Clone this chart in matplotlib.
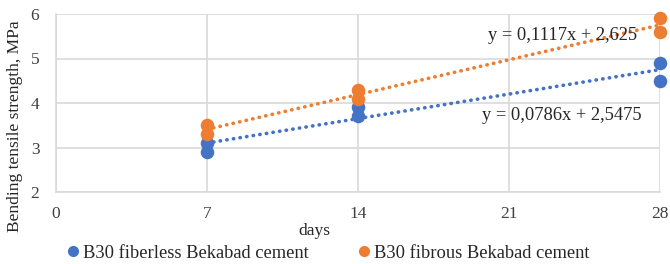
import numpy as np
import matplotlib
matplotlib.use('Agg')
import matplotlib.pyplot as plt
from matplotlib.lines import Line2D

plt.rcParams['font.family'] = ['Liberation Serif', 'DejaVu Serif']

days = [7, 7, 14, 14, 28, 28]
fiberless = [2.9, 3.1, 3.7, 3.9, 4.5, 4.9]
fibrous = [3.3, 3.5, 4.1, 4.3, 5.6, 5.9]
x_ticks = [0, 7, 14, 21, 28]
y_ticks = [2, 3, 4, 5, 6]
names = ['B30 fiberless Bekabad cement', 'B30 fibrous Bekabad cement']
equations = ['y = 0,0786x + 2,5475', 'y = 0,1117x + 2,625']
blue = '#4472C4'
orange = '#ED7D31'
grid_c = '#D9D9D9'
txt_c = '#262626'

fig = plt.figure(figsize=(6.7, 2.64), dpi=100)
ax = fig.add_axes([56 / 670, 1 - 192 / 264, 604 / 670, 178 / 264])

ax.set_xlim(0, 28)
ax.set_ylim(2, 6)
ax.set_xticks(x_ticks)
ax.set_yticks(y_ticks)
ax.grid(True, color=grid_c, lw=1.2)
ax.set_axisbelow(True)
for s in ['top', 'right']:
    ax.spines[s].set_visible(False)
for s in ['left', 'bottom']:
    ax.spines[s].set_color(grid_c)
    ax.spines[s].set_linewidth(1.2)
ax.tick_params(length=0, labelsize=12.5, colors='#404040', pad=10)
ax.tick_params(axis='y', pad=12)

# linear trendlines over the measured range
xs = np.array([7, 28])
for y, c in [(fiberless, blue), (fibrous, orange)]:
    k, b = np.polyfit(days, y, 1)
    ax.plot(xs, k * xs + b, ls=(0, (0.1, 1.75)), color=c, lw=2.6,
            dash_capstyle='round', zorder=2)
    ax.scatter(days, y, s=95, color=c, zorder=3, clip_on=False, lw=0)

fig.text(642 / 670, 1 - 116 / 264, equations[0], ha='right', va='center',
         fontsize=13.3, color=txt_c)
fig.text(637 / 670, 1 - 35 / 264, equations[1], ha='right', va='center',
         fontsize=13.3, color=txt_c)

fig.text(314 / 670, 1 - 231 / 264, 'days', ha='center', va='center',
         fontsize=12.5, color=txt_c)
fig.text(15 / 670, 1 - 126 / 264, 'Bending tensile strength, MPa',
         rotation=90, ha='center', va='center', fontsize=12.5, color=txt_c)

handles = [Line2D([], [], ls='none', marker='o', ms=7, color=blue),
           Line2D([], [], ls='none', marker='o', ms=7, color=orange)]
fig.legend(handles, names, loc='center left', ncol=2, frameon=False,
           bbox_to_anchor=(67 / 670, 1 - 253 / 264), fontsize=13.3,
           handlelength=0.6, handletextpad=0.25, columnspacing=2.7,
           borderaxespad=0, borderpad=0, labelcolor=txt_c)

fig.savefig('out.png', dpi=100)
